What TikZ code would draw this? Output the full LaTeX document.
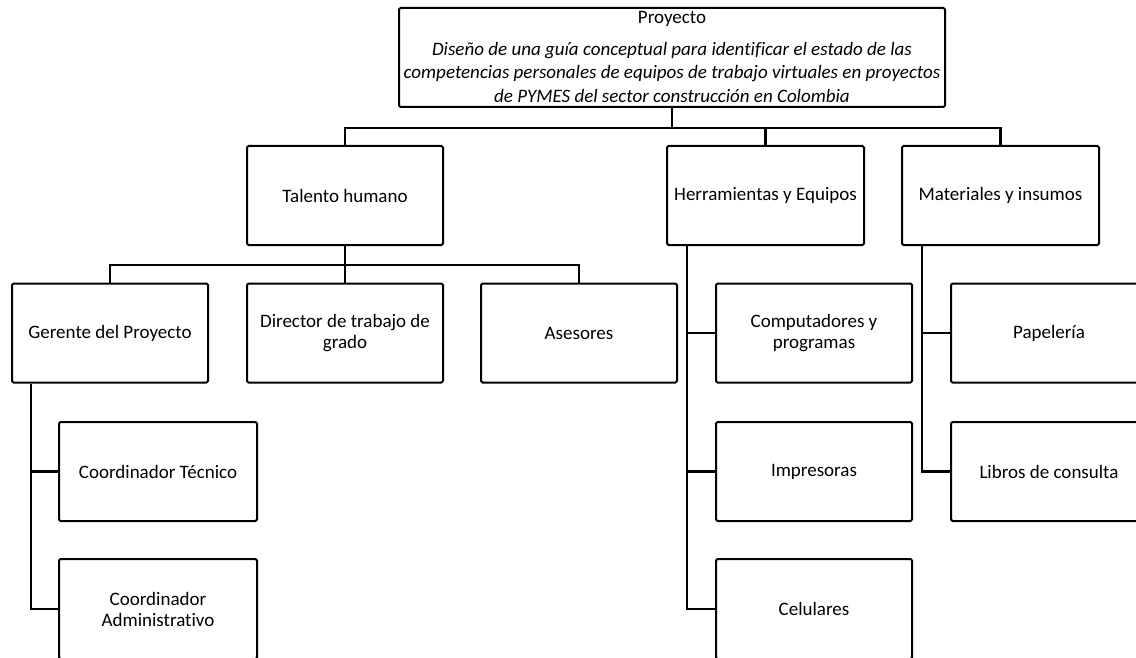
\documentclass[tikz,border=0pt]{standalone}
\usepackage{fontspec}
\setmainfont[Ligatures=NoCommon]{Carlito}
\usetikzlibrary{calc}
\tikzset{
  box/.style={draw=black, line width=2pt, fill=white, rounded corners=1.5pt,
    minimum width=196pt, minimum height=99pt, align=center, inner sep=2pt,
    font=\fontsize{19}{21}\selectfont},
  link/.style={draw=black, line width=2.8pt}
}
\begin{document}
\begin{tikzpicture}[x=1pt,y=-1pt]
\useasboundingbox (0,0) rectangle (1136,658);
\clip (0,0) rectangle (1136,658);
\fill[white] (0,0) rectangle (1136,658);
% top box
\node[box, minimum width=546pt, minimum height=99pt, inner sep=0pt] (top) at (672,57.5) {};
\node[font=\fontsize{19}{23.5}\selectfont, anchor=center, inner sep=0pt] (toptitle) at (672,19) {Proyecto};
\node[font=\fontsize{19}{23.5}\selectfont\itshape, align=center, anchor=center, inner sep=0pt] (toptxt) at (672,72)
 {Diseño de una guía conceptual para identificar el estado de las\\
  competencias personales de equipos de trabajo virtuales en proyectos\\
  de PYMES del sector construcción en Colombia};
% level 1
\node[box] (tal) at (345,195.5) {Talento humano};
\node[box, minimum width=197pt] (her) at (765.5,195.5) {Herramientas y Equipos};
\node[box, minimum width=197pt] (mat) at (1000.5,195.5) {Materiales y insumos};
% level 2
\node[box] (ger) at (110,333) {Gerente del Proyecto};
\node[box] (dir) at (345,333) {Director de trabajo de\\grado};
\node[box] (ase) at (579,333) {Asesores};
\node[box] (com) at (814,333) {Computadores y\\programas};
\node[box] (pap) at (1049,333) {Papelería};
% level 3
\node[box, minimum width=198pt] (ct) at (158,471.5) {Coordinador Técnico};
\node[box] (imp) at (814,471.5) {Impresoras};
\node[box] (lib) at (1049,471.5) {Libros de consulta};
% level 4
\node[box, minimum width=198pt, minimum height=100pt] (ca) at (158,609) {Coordinador\\Administrativo};
\node[box, minimum height=100pt] (cel) at (814,609) {Celulares};
% connectors
\draw[link] (top.south) -- ++(0,20) -| (tal.north);
\draw[link] (top.south) -- ++(0,20) -| (her.north);
\draw[link] (top.south) -- ++(0,20) -| (mat.north);
\draw[link] (tal.south) -- ++(0,19) -| (ger.north);
\draw[link] (tal.south) -- (dir.north);
\draw[link] (tal.south) -- ++(0,19) -| (ase.north);
\draw[link] ($(ger.south west)+(20,0)$) |- (ct.west);
\draw[link] ($(ger.south west)+(20,0)$) |- (ca.west);
\draw[link] ($(her.south west)+(21,0)$) |- (com.west);
\draw[link] ($(her.south west)+(21,0)$) |- (imp.west);
\draw[link] ($(her.south west)+(21,0)$) |- (cel.west);
\draw[link] ($(mat.south west)+(21,0)$) |- (pap.west);
\draw[link] ($(mat.south west)+(21,0)$) |- (lib.west);
\end{tikzpicture}
\end{document}
